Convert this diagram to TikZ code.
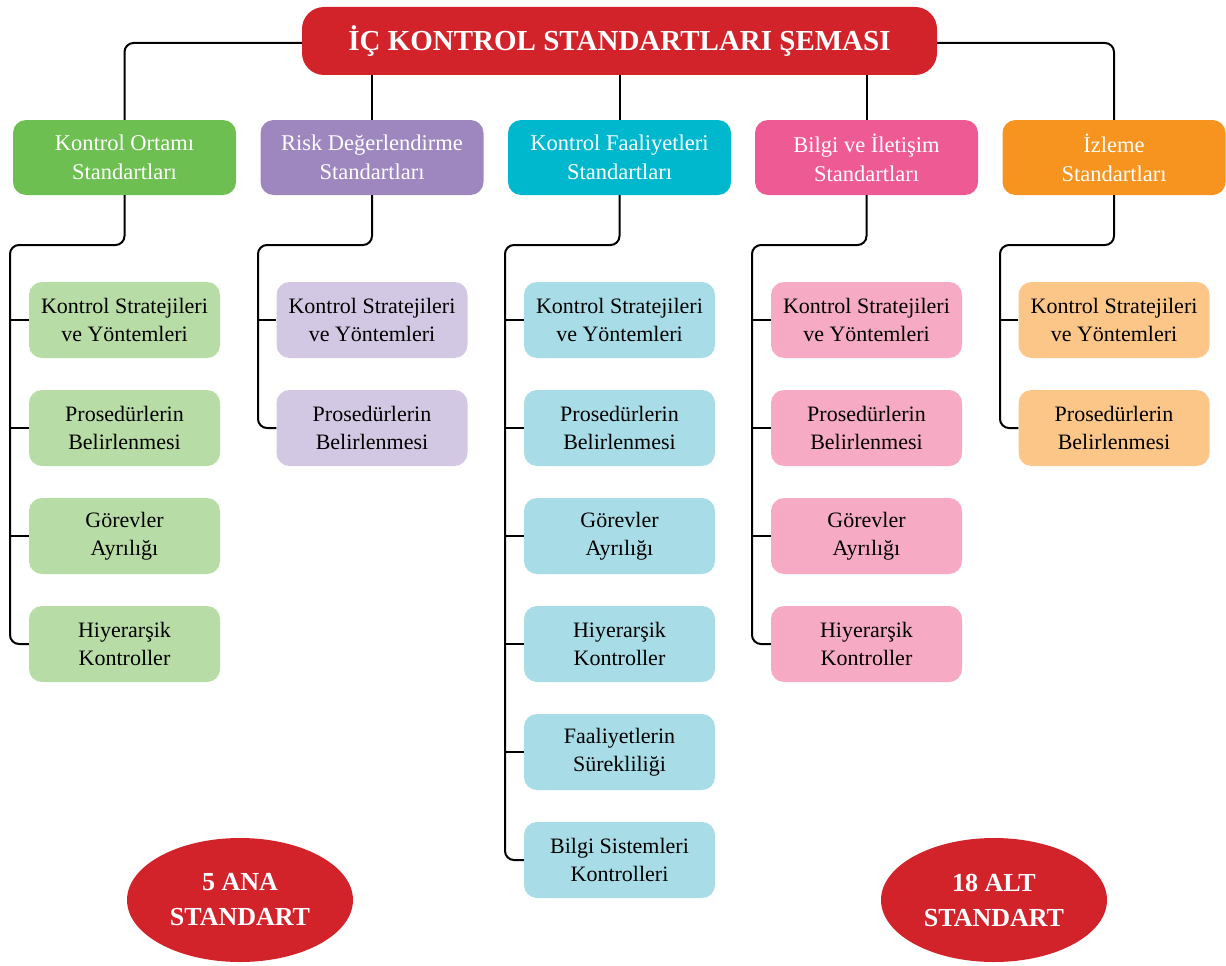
\documentclass[tikz,border=0pt]{standalone}
\usepackage{fontspec}
\setmainfont{Liberation Serif}
\usetikzlibrary{shapes.geometric}
\definecolor{tred}{HTML}{D2232A}
\definecolor{gD}{HTML}{6DBF52}\definecolor{gL}{HTML}{B8DCA6}
\definecolor{pD}{HTML}{9E87BF}\definecolor{pL}{HTML}{D3C8E3}
\definecolor{cD}{HTML}{00B8CE}\definecolor{cL}{HTML}{A8DDE7}
\definecolor{kD}{HTML}{EE5B94}\definecolor{kL}{HTML}{F6AAC4}
\definecolor{oD}{HTML}{F6941F}\definecolor{oL}{HTML}{FBC687}
\tikzset{
  titlebox/.style={fill=tred, rounded corners=22pt, minimum width=635pt, minimum height=68pt, inner sep=0pt, text=white, font=\bfseries\fontsize{29}{32}\selectfont},
  catbox/.style={rounded corners=13pt, minimum width=223pt, minimum height=75pt, inner sep=0pt, text=white, align=center, font=\fontsize{22.5}{29}\selectfont},
  subbox/.style={rounded corners=13pt, minimum width=191pt, minimum height=76pt, inner sep=0pt, text=black, align=center, font=\fontsize{22}{28}\selectfont},
  conn/.style={draw=black, line width=2pt, rounded corners=9pt},
  badge/.style={ellipse, fill=tred, minimum width=226pt, minimum height=124pt, inner sep=0pt, text=white, align=center, font=\bfseries\fontsize{26}{35}\selectfont}
}
\begin{document}
\begin{tikzpicture}[x=1pt,y=-1pt]
\useasboundingbox (0,0) rectangle (1226,966);

\node[titlebox] (title) at (619.5,41) {İÇ KONTROL STANDARTLARI ŞEMASI};

\node[catbox, fill=gD] (c1) at (124.5,157.5) {Kontrol Ortamı\\Standartları};
\node[catbox, fill=pD] (c2) at (372,157.5) {Risk Değerlendirme\\Standartları};
\node[catbox, fill=cD] (c3) at (619.5,157.5) {Kontrol Faaliyetleri\\Standartları};
\node[catbox, fill=kD] (c4) at (866.5,157.5) {Bilgi ve İletişim\\Standartları};
\node[catbox, fill=oD] (c5) at (1114,157.5) {İzleme\\Standartları};

% sub boxes
\node[subbox, fill=gL] (s11) at (124.5,320) {Kontrol Stratejileri\\ve Yöntemleri};
\node[subbox, fill=gL] (s12) at (124.5,428) {Prosedürlerin\\Belirlenmesi};
\node[subbox, fill=gL] (s13) at (124.5,536) {Görevler\\Ayrılığı};
\node[subbox, fill=gL] (s14) at (124.5,644) {Hiyerarşik\\Kontroller};

\node[subbox, fill=pL] (s21) at (372,320) {Kontrol Stratejileri\\ve Yöntemleri};
\node[subbox, fill=pL] (s22) at (372,428) {Prosedürlerin\\Belirlenmesi};

\node[subbox, fill=cL] (s31) at (619.5,320) {Kontrol Stratejileri\\ve Yöntemleri};
\node[subbox, fill=cL] (s32) at (619.5,428) {Prosedürlerin\\Belirlenmesi};
\node[subbox, fill=cL] (s33) at (619.5,536) {Görevler\\Ayrılığı};
\node[subbox, fill=cL] (s34) at (619.5,644) {Hiyerarşik\\Kontroller};
\node[subbox, fill=cL] (s35) at (619.5,752) {Faaliyetlerin\\Sürekliliği};
\node[subbox, fill=cL] (s36) at (619.5,860) {Bilgi Sistemleri\\Kontrolleri};

\node[subbox, fill=kL] (s41) at (866.5,320) {Kontrol Stratejileri\\ve Yöntemleri};
\node[subbox, fill=kL] (s42) at (866.5,428) {Prosedürlerin\\Belirlenmesi};
\node[subbox, fill=kL] (s43) at (866.5,536) {Görevler\\Ayrılığı};
\node[subbox, fill=kL] (s44) at (866.5,644) {Hiyerarşik\\Kontroller};

\node[subbox, fill=oL] (s51) at (1114,320) {Kontrol Stratejileri\\ve Yöntemleri};
\node[subbox, fill=oL] (s52) at (1114,428) {Prosedürlerin\\Belirlenmesi};

% badges
\node[badge] (b1) at (240,900) {5 ANA\\STANDART};
\node[badge] (b2) at (994,900) {18 ALT\\STANDART};

% connectors from title
\draw[conn] ([yshift=-2pt]title.west) -| (c1.north);
\draw[conn] ([yshift=-2pt]title.east) -| (c5.north);
\draw[conn] (c2.north |- title.south) -- (c2.north);
\draw[conn] (c3.north |- title.south) -- (c3.north);
\draw[conn] (c4.north |- title.south) -- (c4.north);

% spines
\coordinate (t1) at (10,245);
\coordinate (t2) at (258,245);
\coordinate (t3) at (505,245);
\coordinate (t4) at (752,245);
\coordinate (t5) at (1000,245);

\draw[conn] (c1.south) |- (t1) |- (s14.west);
\foreach \s in {s11,s12,s13} \draw[conn] (\s.west -| t1) -- (\s.west);

\draw[conn] (c2.south) |- (t2) |- (s22.west);
\draw[conn] (s21.west -| t2) -- (s21.west);

\draw[conn] (c3.south) |- (t3) |- (s36.west);
\foreach \s in {s31,s32,s33,s34,s35} \draw[conn] (\s.west -| t3) -- (\s.west);

\draw[conn] (c4.south) |- (t4) |- (s44.west);
\foreach \s in {s41,s42,s43} \draw[conn] (\s.west -| t4) -- (\s.west);

\draw[conn] (c5.south) |- (t5) |- (s52.west);
\draw[conn] (s51.west -| t5) -- (s51.west);
\end{tikzpicture}
\end{document}
